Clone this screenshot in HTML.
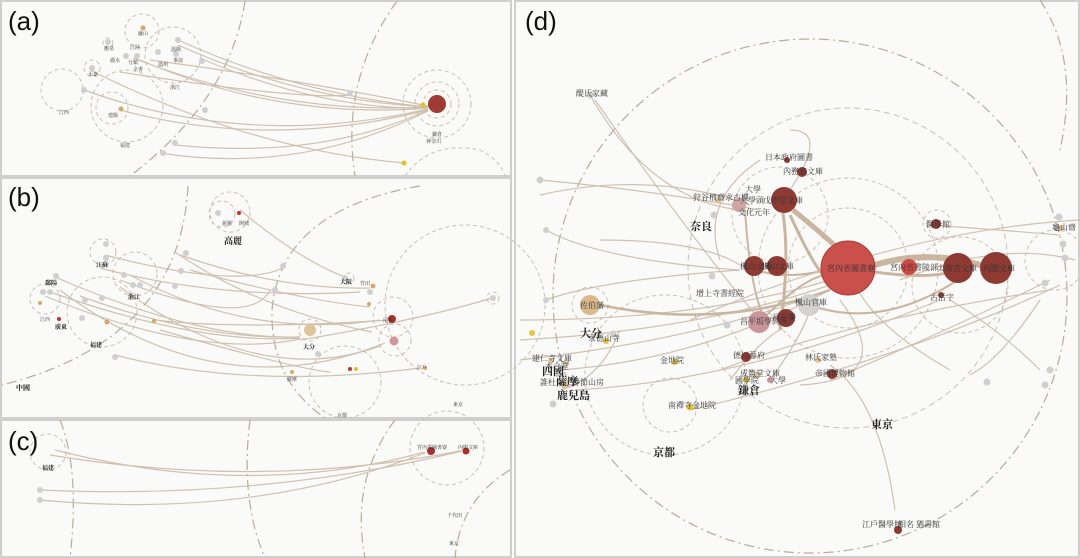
<!DOCTYPE html>
<html><head><meta charset="utf-8"><style>
html,body{margin:0;padding:0;background:#fff;}
svg{display:block;font-family:"Liberation Serif","Noto Serif CJK SC",serif;}
.e{fill:none;stroke:#c9b7a3;stroke-width:1.2;opacity:.85}
.E{fill:none;stroke:#bfa58a;opacity:.8}
.dc{fill:none;stroke:#cbbfb3;stroke-width:1;stroke-dasharray:4 3}
.dd{fill:none;stroke:#b9ab9c;stroke-width:1.2;stroke-dasharray:10 4 2 4}
.g{fill:#cfcfcf}
.lab{font-size:7px;fill:#333}
.big{font-size:11px;font-weight:bold;fill:#222}
.pl{font-family:"Liberation Sans",sans-serif;font-size:26px;fill:#111}
</style></head><body>
<svg width="1080" height="558" viewBox="0 0 1080 558" xmlns="http://www.w3.org/2000/svg">
<rect width="1080" height="558" fill="#fbfbfa"/>
<!-- panel frames -->
<rect x="1" y="1" width="510" height="175" fill="#fafaf9" stroke="#cfcfcf" stroke-width="2"/>
<rect x="1" y="178" width="510" height="240" fill="#fafaf9" stroke="#cfcfcf" stroke-width="2"/>
<rect x="1" y="420" width="510" height="137" fill="#fafaf9" stroke="#cfcfcf" stroke-width="2"/>
<rect x="515" y="1" width="564" height="556" fill="#fafaf9" stroke="#cfcfcf" stroke-width="2"/>

<!-- ===== (a) ===== -->
<g>
<path class="dd" d="M245 1 Q230 100 130 176"/>
<path class="dd" d="M397 1 Q340 80 355 176"/>
<circle class="dc" cx="437" cy="104" r="34"/>
<circle class="dc" cx="437" cy="104" r="22"/>
<circle class="dc" cx="437" cy="104" r="14"/>
<path class="dc" d="M405 176 Q430 140 480 150 Q500 160 505 176"/>
<circle class="dc" cx="62" cy="90" r="21"/>
<circle class="dc" cx="127" cy="106" r="36"/>
<circle class="dc" cx="112" cy="108" r="16"/>
<circle class="dc" cx="142" cy="31" r="17"/>
<circle class="dc" cx="173" cy="55" r="28"/>
<circle class="dc" cx="92" cy="68" r="8"/>
<circle class="dc" cx="108" cy="43" r="5"/>
<g class="e">
<path d="M178 40 Q300 95 428 107"/><path d="M178 45 Q300 100 428 107"/><path d="M200 58 Q320 110 428 108"/>
<path d="M140 60 Q280 120 428 108"/><path d="M133 58 Q280 115 428 107"/><path d="M84 90 Q250 150 428 109"/>
<path d="M120 110 Q270 150 428 110"/><path d="M175 145 Q320 160 428 110"/><path d="M160 153 Q300 175 428 111"/>
<path d="M120 72 Q300 100 350 95"/><path d="M90 70 Q250 150 405 163"/><path d="M150 60 Q300 80 428 106"/>
</g>
<circle cx="437" cy="104" r="9" fill="#9e3b33"/>
<circle cx="423" cy="105" r="2.5" fill="#e2c02a"/>
<circle cx="404" cy="163" r="2.5" fill="#e2c02a"/>
<circle cx="121" cy="109" r="2.5" fill="#d6a868"/>
<circle cx="143" cy="28" r="2.5" fill="#d6a868"/>
<g class="g"><circle cx="84" cy="90" r="3"/><circle cx="350" cy="93" r="3"/><circle cx="205" cy="110" r="3"/><circle cx="175" cy="143" r="3"/><circle cx="163" cy="153" r="3"/><circle cx="108" cy="42" r="3"/><circle cx="92" cy="68" r="3"/><circle cx="126" cy="56" r="3"/><circle cx="137" cy="56" r="3"/><circle cx="158" cy="52" r="3"/><circle cx="178" cy="40" r="3"/><circle cx="202" cy="61" r="3"/><circle cx="176" cy="54" r="3"/></g>
<g class="lab" style="font-size:5px">
<text x="104" y="50">龍泉</text><text x="110" y="62">麗水</text><text x="128" y="64">分鎮</text><text x="133" y="71">全書</text><text x="130" y="49">江陸</text><text x="171" y="51">溫陽</text><text x="158" y="66">溫州</text><text x="173" y="62">事浪</text><text x="170" y="89">浙江</text><text x="88" y="76">永嘉</text><text x="59" y="114">江西</text><text x="108" y="117">建陽</text><text x="120" y="147">福建</text><text x="432" y="136">鎌倉</text><text x="426" y="143">神奈川</text><text x="138" y="35">廬山</text>
</g>
<text class="pl" x="8" y="30">(a)</text>
</g>

<!-- ===== (b) ===== -->
<g>
<path class="dd" d="M188 186 Q180 340 2 385"/>
<path class="dd" d="M420 186 Q280 210 272 310 Q270 380 325 418"/>
<circle class="dc" cx="465" cy="305" r="80"/>
<circle class="dc" cx="393" cy="317" r="20"/>
<circle class="dc" cx="395" cy="340" r="16"/>
<circle class="dc" cx="345" cy="382" r="36"/>
<circle class="dc" cx="310" cy="330" r="11"/>
<circle class="dc" cx="230" cy="212" r="20"/>
<circle class="dc" cx="222" cy="214" r="13"/>
<circle class="dc" cx="103" cy="252" r="13"/>
<circle class="dc" cx="135" cy="274" r="22"/>
<circle class="dc" cx="45" cy="299" r="15"/>
<circle class="dc" cx="102" cy="312" r="35"/>
<circle class="dc" cx="493" cy="298" r="6"/>
<circle class="dc" cx="349" cy="278" r="5"/>
<g class="e">
<path d="M55 277 Q200 340 300 337"/><path d="M50 292 Q200 345 300 338"/><path d="M45 296 Q200 360 300 339"/><path d="M80 296 Q200 340 300 337"/>
<path d="M100 268 Q220 300 360 292"/><path d="M105 255 Q240 290 285 267"/><path d="M120 280 Q250 330 270 290"/>
<path d="M120 287 Q260 390 380 346"/><path d="M60 290 Q220 410 385 343"/><path d="M130 275 Q250 340 380 320"/>
<path d="M115 355 Q250 390 420 368"/><path d="M240 210 Q300 260 345 277"/><path d="M180 255 Q280 290 370 288"/>
<path d="M190 270 Q300 300 370 307"/><path d="M155 320 Q240 330 390 320"/><path d="M300 340 Q420 320 492 298"/>
<path d="M175 252 Q260 310 372 332"/><path d="M160 330 Q300 370 330 372"/>
</g>
<circle cx="310" cy="330" r="6" fill="#e0c49a"/>
<circle cx="392" cy="319" r="4" fill="#a8322b"/>
<circle cx="394" cy="341" r="4.5" fill="#d3979a"/>
<circle cx="239" cy="213" r="2" fill="#c8312a"/>
<circle cx="59" cy="319" r="2" fill="#c8312a"/>
<circle cx="350" cy="369" r="2" fill="#c8312a"/>
<circle cx="351" cy="369" r="2" fill="#e2c02a" transform="translate(5,0)"/>
<g fill="#d6a868"><circle cx="373" cy="286" r="2.5"/><circle cx="107" cy="322" r="2.5"/><circle cx="40" cy="303" r="2"/><circle cx="154" cy="321" r="2"/><circle cx="369" cy="304" r="2"/><circle cx="425" cy="368" r="2"/><circle cx="292" cy="372" r="2"/></g>
<g class="g"><circle cx="218" cy="213" r="3"/><circle cx="56" cy="276" r="3"/><circle cx="50" cy="292" r="3"/><circle cx="43" cy="292" r="3"/><circle cx="106" cy="244" r="3"/><circle cx="106" cy="258" r="3"/><circle cx="124" cy="275" r="3"/><circle cx="140" cy="285" r="3"/><circle cx="133" cy="285" r="3"/><circle cx="102" cy="298" r="3"/><circle cx="85" cy="300" r="3"/><circle cx="82" cy="318" r="3"/><circle cx="115" cy="357" r="3"/><circle cx="186" cy="253" r="3"/><circle cx="181" cy="271" r="3"/><circle cx="175" cy="286" r="3"/><circle cx="283" cy="266" r="3"/><circle cx="275" cy="290" r="3"/><circle cx="345" cy="278" r="3"/><circle cx="493" cy="298" r="3"/><circle cx="318" cy="354" r="3"/><circle cx="370" cy="292" r="3"/></g>
<g class="lab" style="font-size:5px">
<text x="45" y="285" class="big" style="font-size:6px">鄱陽</text><text x="96" y="267" class="big" style="font-size:6px">江蘇</text><text x="128" y="299" class="big" style="font-size:6px">浙江</text><text x="40" y="321">江西</text><text x="55" y="329" class="big" style="font-size:6px">廣東</text><text x="90" y="347" class="big" style="font-size:6px">福建</text>
<text x="222" y="225">新羅</text><text x="239" y="225">開城</text><text x="340" y="284" class="big" style="font-size:6px">大阪</text><text x="360" y="285">竹田</text><text x="303" y="349" class="big" style="font-size:6px">大分</text><text x="287" y="381">薩摩</text><text x="337" y="417">京都</text><text x="453" y="406">東京</text><text x="383" y="322">尾張</text><text x="417" y="369">江戶</text>
</g>
<text class="big" x="224" y="244" style="font-size:9px">高麗</text>
<text class="big" x="16" y="390" style="font-size:7px">中國</text>
<text class="pl" x="8" y="206">(b)</text>
</g>

<!-- ===== (c) ===== -->
<g>
<path class="dd" d="M60 420 Q80 470 70 558"/>
<path class="dd" d="M250 420 Q240 500 265 558"/>
<path class="dd" d="M395 420 Q350 480 365 558"/>
<path class="dd" d="M510 470 Q460 500 455 558"/>
<circle class="dc" cx="447" cy="448" r="37"/>
<circle class="dc" cx="48" cy="452" r="18"/>
<g class="e">
<path d="M55 450 Q250 500 425 452"/><path d="M50 455 Q260 490 460 451"/>
<path d="M40 500 Q250 520 425 453"/><path d="M40 490 Q260 500 462 451"/>
</g>
<circle cx="431" cy="451" r="4" fill="#a8322b"/><circle cx="466" cy="451" r="3.5" fill="#a8322b"/>
<g class="g"><circle cx="40" cy="490" r="3"/><circle cx="40" cy="500" r="3"/></g>
<g class="lab" style="font-size:5px"><text x="417" y="449">宮內省圖書寮</text><text x="458" y="449">內閣文庫</text><text x="42" y="470" class="big" style="font-size:6px">福建</text><text x="447" y="517">千代田</text><text x="449" y="545">東京</text></g>
<text class="pl" x="8" y="450">(c)</text>
</g>

<!-- ===== (d) ===== -->
<g>
<circle class="dd" cx="810" cy="296" r="257"/>
<circle class="dc" cx="848" cy="268" r="160" style="stroke-dasharray:6 4"/>
<circle class="dc" cx="848" cy="268" r="90"/>
<circle class="dc" cx="848" cy="268" r="60"/>
<circle class="dc" cx="780" cy="215" r="48"/>
<circle class="dc" cx="590" cy="305" r="18"/>
<circle class="dc" cx="670" cy="405" r="27"/>
<circle class="dc" cx="665" cy="375" r="80"/>
<circle class="dc" cx="960" cy="285" r="48"/>
<circle class="dc" cx="937" cy="224" r="14"/>
<circle class="dc" cx="1055" cy="260" r="30"/>
<path class="dd" d="M1040 0 Q1080 60 1060 150"/>
<g class="E">
<path d="M793 210 Q830 240 848 258" stroke-width="5"/>
<path d="M790 215 Q820 280 830 280" stroke-width="3"/>
<path d="M875 265 Q930 248 990 268" stroke-width="6"/>
<path d="M875 272 Q930 280 958 270" stroke-width="3"/>
<path d="M780 330 Q790 260 783 213" stroke-width="3"/>
<path d="M600 305 Q720 330 830 290" stroke-width="2.5"/>
<path d="M810 305 Q880 330 958 280" stroke-width="2"/>
<path d="M760 322 Q800 280 825 275" stroke-width="2"/>
<path d="M755 270 Q790 280 825 270" stroke-width="2"/>
<path d="M745 210 Q750 290 765 320" stroke-width="2"/>
<path d="M790 190 Q830 130 790 130" stroke-width="1"/>
</g>
<g class="e">
<path d="M520 320 Q700 320 830 280"/><path d="M520 340 Q700 330 830 285"/><path d="M520 360 Q700 340 830 290"/>
<path d="M540 195 Q650 170 750 205"/><path d="M540 180 Q650 190 760 210"/><path d="M590 95 Q650 200 740 210"/>
<path d="M595 100 Q700 250 760 320"/><path d="M560 370 Q700 360 830 290"/><path d="M575 390 Q750 380 940 300"/>
<path d="M690 320 Q900 230 1080 220"/><path d="M690 410 Q900 360 1060 285"/><path d="M900 280 Q1000 240 1075 260"/>
<path d="M930 225 Q1000 230 1060 235"/><path d="M840 300 Q900 380 800 385"/><path d="M895 510 Q880 400 830 365"/>
<path d="M858 290 Q880 330 950 370"/><path d="M730 380 Q760 340 783 328"/><path d="M770 380 Q800 340 810 310"/>
<path d="M546 230 Q600 260 740 270"/><path d="M546 300 Q600 280 740 270"/><path d="M620 330 Q600 380 560 390"/>
<path d="M720 260 Q700 200 760 160"/><path d="M950 300 Q1000 330 1040 370"/><path d="M1040 300 Q1000 360 970 375"/>
<path d="M600 240 Q700 240 740 265"/><path d="M720 370 Q850 320 1050 290"/><path d="M830 380 Q950 330 1050 280"/>
</g>
<circle cx="848" cy="268" r="27" fill="#c9504b" stroke="#b03a35"/>
<circle cx="909" cy="267" r="8" fill="#cf4a45"/>
<circle cx="958" cy="268" r="15" fill="#8e3a33"/>
<circle cx="996" cy="268" r="16" fill="#8e3a33"/>
<circle cx="754" cy="266" r="10" fill="#8e3a33"/>
<circle cx="777" cy="266" r="10" fill="#8e3a33"/>
<circle cx="759" cy="322" r="11" fill="#c9959a"/>
<circle cx="786" cy="318" r="9" fill="#8e3a33"/>
<circle cx="809" cy="305" r="11" fill="#d3d2d0"/>
<circle cx="784" cy="200" r="13" fill="#8e3a33"/>
<circle cx="739" cy="205" r="7" fill="#cfa4a4"/>
<circle cx="802" cy="172" r="5" fill="#8e3a33"/>
<circle cx="787" cy="160" r="3" fill="#8e3a33"/>
<circle cx="936" cy="224" r="5" fill="#8e3a33"/>
<circle cx="941" cy="295" r="3" fill="#8e3a33"/>
<circle cx="590" cy="305" r="10" fill="#dbb98c"/>
<circle cx="746" cy="357" r="5" fill="#8e3a33"/>
<circle cx="832" cy="374" r="5" fill="#8e3a33"/>
<circle cx="898" cy="530" r="4" fill="#8e3a33"/>
<circle cx="770" cy="380" r="3" fill="#c9959a"/>
<g fill="#e6c53a"><circle cx="532" cy="333" r="3"/><circle cx="675" cy="362" r="3"/><circle cx="690" cy="407" r="3.5"/><circle cx="746" cy="380" r="3"/><circle cx="606" cy="341" r="3"/></g>
<g fill="#e0c49a"><circle cx="1061" cy="228" r="3"/><circle cx="718" cy="200" r="3"/><circle cx="818" cy="360" r="3"/><circle cx="757" cy="375" r="3"/><circle cx="566" cy="363" r="3"/><circle cx="565" cy="385" r="4"/><circle cx="551" cy="361" r="3"/></g>
<g class="g"><circle cx="714" cy="215" r="3.5"/><circle cx="712" cy="276" r="3.5"/><circle cx="727" cy="325" r="3.5"/><circle cx="540" cy="180" r="3.5"/><circle cx="546" cy="230" r="3"/><circle cx="546" cy="300" r="3"/><circle cx="553" cy="404" r="3.5"/><circle cx="613" cy="334" r="3.5"/><circle cx="1059" cy="217" r="3.5"/><circle cx="1063" cy="244" r="3.5"/><circle cx="1065" cy="258" r="3.5"/><circle cx="1045" cy="283" r="3.5"/><circle cx="1050" cy="370" r="3.5"/><circle cx="1045" cy="385" r="3.5"/><circle cx="987" cy="382" r="3.5"/><circle cx="590" cy="95" r="3.5"/></g>
<g class="lab" style="font-size:8px">
<text x="827" y="271">宮內省圖書寮</text><text x="890" y="270">宮內省書陵部</text><text x="937" y="271">太政官文庫</text><text x="983" y="271">內閣文庫</text>
<text x="740" y="269">楓山文庫</text><text x="762" y="269">楓山文庫</text><text x="795" y="305">楓山官庫</text><text x="740" y="324">昌平坂學問所</text><text x="772" y="320">昌平黌</text>
<text x="740" y="203">大學頭</text><text x="763" y="203">戊申草文庫</text><text x="745" y="192">大學</text><text x="738" y="215">文化元年</text><text x="693" y="200">狩谷棭齋求古樓</text>
<text x="765" y="160">日本政府圖書</text><text x="783" y="174">內務省文庫</text><text x="926" y="227">醫學館</text><text x="930" y="300">古活字</text><text x="1052" y="230">龜山齋</text>
<text x="696" y="296">增上寺書經院</text><text x="580" y="308">佐伯藩</text><text x="588" y="341">求德山寺</text><text x="660" y="363">金地院</text><text x="668" y="408">南禪寺金地院</text>
<text x="733" y="358">德川幕府</text><text x="805" y="360">林氏家塾</text><text x="815" y="376">帝國博物館</text><text x="740" y="376">成簣堂文庫</text><text x="735" y="383">國學院</text><text x="770" y="383">大學</text>
<text x="532" y="361">建仁寺文庫</text><text x="545" y="369">本合堂</text><text x="540" y="385">誰杜寺</text><text x="572" y="385">靜節山房</text><text x="862" y="527">江戶醫學館</text><text x="898" y="527">相名 猶壽館</text><text x="576" y="96">醍氏家藏</text>
</g>
<g class="big">
<text x="690" y="230">奈良</text><text x="580" y="337">大分</text><text x="542" y="375">四國</text><text x="556" y="385">薩摩</text><text x="557" y="399">鹿兒島</text><text x="738" y="394">鎌倉</text><text x="871" y="428">東京</text><text x="653" y="456">京都</text>
</g>
<text class="pl" x="525" y="30">(d)</text>
</g>
</svg>
</body></html>
